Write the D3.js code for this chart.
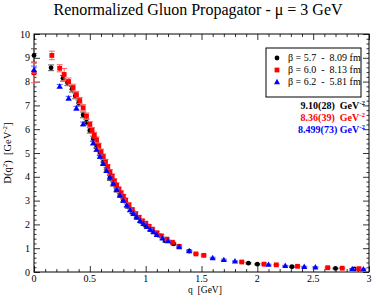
<!DOCTYPE html>
<html>
<head>
<meta charset="utf-8">
<script src="https://cdn.jsdelivr.net/npm/d3@7"></script>
<style>
  body { margin: 0; background: #fff; }
  text { font-family: "Liberation Serif", "DejaVu Serif", serif; white-space: pre; }
</style>
</head>
<body>
<script>
// beta = 5.7, L = 8.09 fm
const qBlack = [0, 0.153, 0.26, 0.30, 0.34, 0.37, 0.40, 0.44, 0.47, 0.50, 0.53, 0.56, 0.59, 0.62, 0.65, 0.68, 0.71, 0.74, 0.77, 0.80, 0.84, 0.88, 0.92, 0.96, 1.00, 1.05, 1.11, 1.175, 1.25, 1.39, 1.92, 2.00, 2.31, 2.70, 2.87];
const dBlack = [9.10, 8.58, 8.14, 7.95, 7.68, 7.40, 7.10, 6.60, 6.30, 5.95, 5.60, 5.30, 5.00, 4.62, 4.30, 3.95, 3.70, 3.45, 3.22, 3.02, 2.76, 2.52, 2.30, 2.12, 1.96, 1.76, 1.55, 1.31, 1.18, 0.88, 0.37, 0.33, 0.22, 0.15, 0.13];
const eBlack = [0.28, 0.12, 0.12, 0.12, 0.12, 0.12, 0.12, 0.12, 0.12, 0.11, 0.11, 0.11, 0.11, 0.10, 0.10, 0.10, 0.09, 0.09, 0.08, 0.08, 0.08, 0.07, 0.07, 0.06, 0.06, 0.05, 0.05, 0.05, 0.04, 0.04, 0.03, 0.03, 0.03, 0.02, 0.02];

// beta = 6.0, L = 8.13 fm
const qRed = [0, 0.16, 0.23, 0.27, 0.31, 0.35, 0.38, 0.41, 0.44, 0.47, 0.50, 0.52, 0.54, 0.56, 0.58, 0.60, 0.62, 0.64, 0.66, 0.68, 0.70, 0.72, 0.74, 0.76, 0.78, 0.80, 0.82, 0.85, 0.88, 0.91, 0.94, 0.97, 1.00, 1.03, 1.06, 1.10, 1.14, 1.19, 1.24, 1.30, 1.45, 1.52, 1.86, 2.06, 2.17, 2.36, 2.63, 2.76, 2.91];
const dRed = [8.37, 9.10, 8.56, 8.30, 8.00, 7.75, 7.45, 7.20, 6.90, 6.55, 6.20, 5.95, 5.75, 5.55, 5.30, 5.05, 4.85, 4.62, 4.42, 4.20, 4.02, 3.82, 3.65, 3.48, 3.32, 3.18, 3.02, 2.82, 2.62, 2.45, 2.30, 2.15, 2.05, 1.92, 1.80, 1.65, 1.52, 1.38, 1.25, 1.08, 0.76, 0.70, 0.42, 0.33, 0.30, 0.24, 0.18, 0.16, 0.14];
const eRed = [0.42, 0.18, 0.15, 0.25, 0.15, 0.14, 0.14, 0.13, 0.13, 0.13, 0.12, 0.12, 0.12, 0.12, 0.11, 0.11, 0.11, 0.11, 0.10, 0.10, 0.10, 0.10, 0.09, 0.09, 0.09, 0.08, 0.08, 0.08, 0.07, 0.07, 0.07, 0.06, 0.06, 0.06, 0.05, 0.05, 0.05, 0.05, 0.04, 0.04, 0.03, 0.03, 0.03, 0.02, 0.02, 0.02, 0.02, 0.02, 0.02];

// beta = 6.2, L = 5.81 fm
const qBlue = [0, 0.23, 0.31, 0.38, 0.44, 0.53, 0.56, 0.59, 0.62, 0.65, 0.68, 0.71, 0.74, 0.77, 0.80, 0.83, 0.86, 0.89, 0.92, 0.95, 0.98, 1.01, 1.04, 1.07, 1.10, 1.15, 1.20, 1.30, 1.39, 1.60, 1.70, 1.80, 2.10, 2.25, 2.42, 2.52, 2.85, 2.95];
const dBlue = [8.50, 7.80, 7.30, 6.88, 6.22, 5.42, 5.15, 4.85, 4.55, 4.25, 3.98, 3.72, 3.45, 3.22, 3.00, 2.80, 2.60, 2.45, 2.30, 2.15, 2.02, 1.90, 1.78, 1.68, 1.56, 1.42, 1.30, 1.05, 0.88, 0.59, 0.51, 0.45, 0.31, 0.26, 0.22, 0.20, 0.13, 0.12];
const eBlue = [0.15, 0.08, 0.08, 0.08, 0.08, 0.08, 0.08, 0.07, 0.07, 0.07, 0.07, 0.07, 0.06, 0.06, 0.06, 0.06, 0.05, 0.05, 0.05, 0.05, 0.05, 0.05, 0.04, 0.04, 0.04, 0.04, 0.04, 0.03, 0.03, 0.03, 0.03, 0.02, 0.02, 0.02, 0.02, 0.02, 0.02, 0.02];

const legendLabels = ["\u03b2 = 5.7  -  8.09 fm", "\u03b2 = 6.0  -  8.13 fm", "\u03b2 = 6.2  -  5.81 fm"];
const zeroValues = ["9.10(28)  GeV", "8.36(39)  GeV", "8.499(73) GeV"];
const xTicks = [0, 0.5, 1, 1.5, 2, 2.5, 3];
const yTicks = [0, 1, 2, 3, 4, 5, 6, 7, 8, 9, 10];

const W = 372, H = 295;
const m = { left: 34, right: 3, top: 34, bottom: 23 };

const svg = d3.select("body").append("svg")
  .attr("width", W).attr("height", H);

const x = d3.scaleLinear().domain([0, 3]).range([m.left, W - m.right]);
const y = d3.scaleLinear().domain([0, 10]).range([H - m.bottom, m.top]);

// title
svg.append("text")
  .attr("x", 198).attr("y", 15)
  .attr("text-anchor", "middle")
  .style("font-size", "16px")
  .text("Renormalized Gluon Propagator - \u03bc = 3 GeV");

// frame + ticks (inward, all four sides)
const isHalf = d => Math.abs(d * 2 - Math.round(d * 2)) < 1e-6;
const isInt = d => Math.abs(d - Math.round(d)) < 1e-6;

const gx = svg.append("g").attr("transform", `translate(0,${y(0)})`);
gx.call(d3.axisBottom(x).tickValues(d3.range(0, 3.001, 0.1)).tickSize(-3).tickFormat(""));
gx.call(g => g.selectAll(".tick").filter(isHalf).select("line").attr("y2", -6));
const gxt = svg.append("g").attr("transform", `translate(0,${y(10)})`);
gxt.call(d3.axisTop(x).tickValues(d3.range(0, 3.001, 0.1)).tickSize(-3).tickFormat(""));
gxt.call(g => g.selectAll(".tick").filter(isHalf).select("line").attr("y2", 6));

const gy = svg.append("g").attr("transform", `translate(${x(0)},0)`);
gy.call(d3.axisLeft(y).tickValues(d3.range(0, 10.001, 0.2)).tickSize(-2.5).tickFormat(""));
gy.call(g => g.selectAll(".tick").filter(isInt).select("line").attr("x2", 6));
const gyr = svg.append("g").attr("transform", `translate(${x(3)},0)`);
gyr.call(d3.axisRight(y).tickValues(d3.range(0, 10.001, 0.2)).tickSize(-2.5).tickFormat(""));
gyr.call(g => g.selectAll(".tick").filter(isInt).select("line").attr("x2", -6));

svg.selectAll(".domain").remove();
svg.selectAll(".tick line").attr("stroke", "#000").attr("stroke-width", 0.8);

svg.append("rect")
  .attr("x", x(0)).attr("y", y(10))
  .attr("width", x(3) - x(0)).attr("height", y(0) - y(10))
  .attr("fill", "none").attr("stroke", "#000").attr("stroke-width", 1);

// tick labels
svg.append("g").selectAll("text").data(xTicks).join("text")
  .attr("x", d => x(d)).attr("y", y(0) + 10)
  .attr("text-anchor", "middle")
  .style("font-size", "10px")
  .text(d => d);
svg.append("g").selectAll("text").data(yTicks).join("text")
  .attr("x", x(0) - 4).attr("y", d => y(d) + 3.5)
  .attr("text-anchor", "end")
  .style("font-size", "10px")
  .text(d => d);

// axis titles
svg.append("text")
  .attr("x", 205).attr("y", 293)
  .attr("text-anchor", "middle")
  .style("font-size", "9.5px")
  .text("q  [GeV]");

const yl = svg.append("text")
  .attr("transform", `translate(11,${(y(0) + y(10)) / 2}) rotate(-90)`)
  .attr("text-anchor", "middle")
  .style("font-size", "10.5px");
yl.append("tspan").text("D(q");
yl.append("tspan").attr("dy", -4).style("font-size", "7px").text("2");
yl.append("tspan").attr("dy", 4).text(")  [GeV");
yl.append("tspan").attr("dy", -4).style("font-size", "7px").text("-2");
yl.append("tspan").attr("dy", 4).text("]");

// data
const series = [
  { q: qBlack, d: dBlack, e: eBlack, color: "#000000", bar: "#555555", shape: "circle" },
  { q: qRed, d: dRed, e: eRed, color: "#ff0000", bar: "#ff6060", shape: "square" },
  { q: qBlue, d: dBlue, e: eBlue, color: "#0000ff", bar: "#6060ff", shape: "triangle" }
];

function marker(sel, shape, color) {
  if (shape === "circle") {
    sel.append("circle").attr("r", 2.4).attr("fill", color);
  } else if (shape === "square") {
    sel.append("rect").attr("x", -2.4).attr("y", -2.4).attr("width", 4.8).attr("height", 4.8).attr("fill", color);
  } else {
    sel.append("path").attr("d", "M0,-3.2L3,2.2L-3,2.2Z").attr("fill", color);
  }
}

series.forEach(s => {
  const pts = s.q.map((q, i) => ({ q, d: s.d[i], e: s.e[i] }));
  const g = svg.append("g");
  const eb = g.selectAll("g.eb").data(pts).join("g").attr("class", "eb")
    .attr("stroke", s.bar).attr("stroke-width", 1);
  eb.append("line")
    .attr("x1", p => x(p.q)).attr("x2", p => x(p.q))
    .attr("y1", p => y(p.d - p.e)).attr("y2", p => y(p.d + p.e));
  eb.append("line")
    .attr("x1", p => x(p.q) - 3).attr("x2", p => x(p.q) + 3)
    .attr("y1", p => y(p.d + p.e)).attr("y2", p => y(p.d + p.e));
  eb.append("line")
    .attr("x1", p => x(p.q) - 3).attr("x2", p => x(p.q) + 3)
    .attr("y1", p => y(p.d - p.e)).attr("y2", p => y(p.d - p.e));
  const mk = g.selectAll("g.mk").data(pts).join("g").attr("class", "mk")
    .attr("transform", p => `translate(${x(p.q)},${y(p.d)})`);
  marker(mk, s.shape, s.color);
});

// legend
svg.append("rect")
  .attr("x", 266).attr("y", 48).attr("width", 95).attr("height", 49)
  .attr("fill", "#fff").attr("stroke", "#000").attr("stroke-width", 1);
series.forEach((s, i) => {
  const ly = 61 + i * 12;
  const g = svg.append("g").attr("transform", `translate(277,${ly - 3})`);
  marker(g, s.shape, s.color);
  svg.append("text")
    .attr("x", 288).attr("y", ly)
    .style("font-size", "10px")
    .text(legendLabels[i]);
});

// D(0) values
zeroValues.forEach((v, i) => {
  const t = svg.append("text")
    .attr("x", 365).attr("y", 109 + i * 12)
    .attr("text-anchor", "end")
    .attr("fill", series[i].color)
    .style("font-size", "10px").style("font-weight", "bold");
  t.append("tspan").text(v);
  t.append("tspan").attr("dy", -4).style("font-size", "7px").text("-2");
});
</script>
</body>
</html>
